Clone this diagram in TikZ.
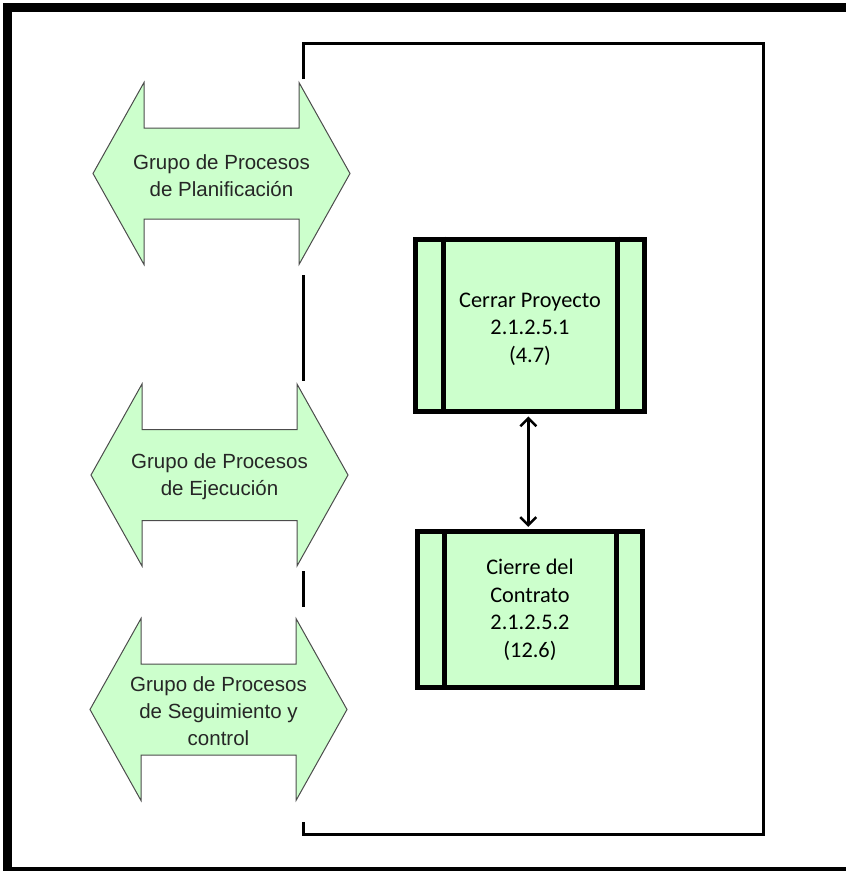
\documentclass[tikz,border=0pt]{standalone}
\usepackage{fontspec}
\setmainfont{Liberation Sans}
\newfontfamily\boxfont{Carlito}
\usetikzlibrary{arrows.meta}
\definecolor{procgreen}{HTML}{CCFFCC}

% double-headed group arrow: #1 name, #2 centre x, #3 centre y, #4 label
\newcommand\flechagrupo[4]{%
  \draw[grupo, shift={(#2,#3)}]
    (-128.5,0) -- (-77.5,-91) -- (-77.5,-45.5) -- (77.5,-45.5) -- (77.5,-91)
    -- (128.5,0) -- (77.5,91) -- (77.5,45.5) -- (-77.5,45.5) -- (-77.5,91) -- cycle;
  \node[grupotext] (#1) at (#2,#3+2) {#4};%
}

\begin{document}
\begin{tikzpicture}[x=1pt,y=-1pt,
  grupo/.style={fill=procgreen, draw=black!70, line width=1pt, line join=miter},
  grupotext/.style={align=center, inner sep=0pt, font=\fontsize{20.5}{27}\selectfont, text=black!85},
  proc/.style={fill=procgreen, draw=black, line width=5pt, inner sep=0pt},
  proctext/.style={align=center, inner sep=0pt, font=\boxfont\fontsize{22.3}{27.5}\selectfont},
  frameline/.style={line width=3.3pt, line join=miter},
  link/.style={line width=2.5pt, {Straight Barb[length=8pt,width=16pt]}-{Straight Barb[length=8pt,width=16pt]}},
]
\useasboundingbox (0,0) rectangle (846,871);
\clip (0,0) rectangle (846,871);

% outer border
\draw[line width=8.5pt] (7.5,7.5) rectangle (900,871);

% open frame around the closing processes
\draw[frameline] (303.5,79) -- (303.5,43.3) -- (763.8,43.3) -- (763.8,834.3) -- (303.5,834.3) -- (303.5,822);
\draw[frameline] (303.5,275) -- (303.5,381);
\draw[frameline] (303.5,571) -- (303.5,606.5);

% process groups
\flechagrupo{plan}{221.5}{173.5}{Grupo de Procesos\\de Planificación}
\flechagrupo{ejec}{219.5}{475}{Grupo de Procesos\\de Ejecución}
\flechagrupo{segu}{218.5}{709.5}{Grupo de Procesos\\de Seguimiento y\\control}

% closing processes
\node[proc, minimum width=228.4pt, minimum height=172.3pt] (cerrar) at (530,325.3) {};
\draw[line width=5pt] ([xshift=-87pt]cerrar.north) -- ([xshift=-87pt]cerrar.south);
\draw[line width=5pt] ([xshift=87pt]cerrar.north) -- ([xshift=87pt]cerrar.south);
\node[proctext] (cerrartxt) at (530,329) {Cerrar Proyecto\\2.1.2.5.1\\(4.7)};

\node[proc, minimum width=225pt, minimum height=155.7pt] (cierre) at (530,609.7) {};
\draw[line width=5pt] ([xshift=-86pt]cierre.north) -- ([xshift=-86pt]cierre.south);
\draw[line width=5pt] ([xshift=86pt]cierre.north) -- ([xshift=86pt]cierre.south);
\node[proctext] (cierretxt) at (530,610) {Cierre del\\Contrato\\2.1.2.5.2\\(12.6)};

\draw[link, shorten <=2.5pt, shorten >=2.5pt] ([xshift=-1.7pt]cerrar.south) -- ([xshift=-1.7pt]cierre.north);
\end{tikzpicture}
\end{document}
